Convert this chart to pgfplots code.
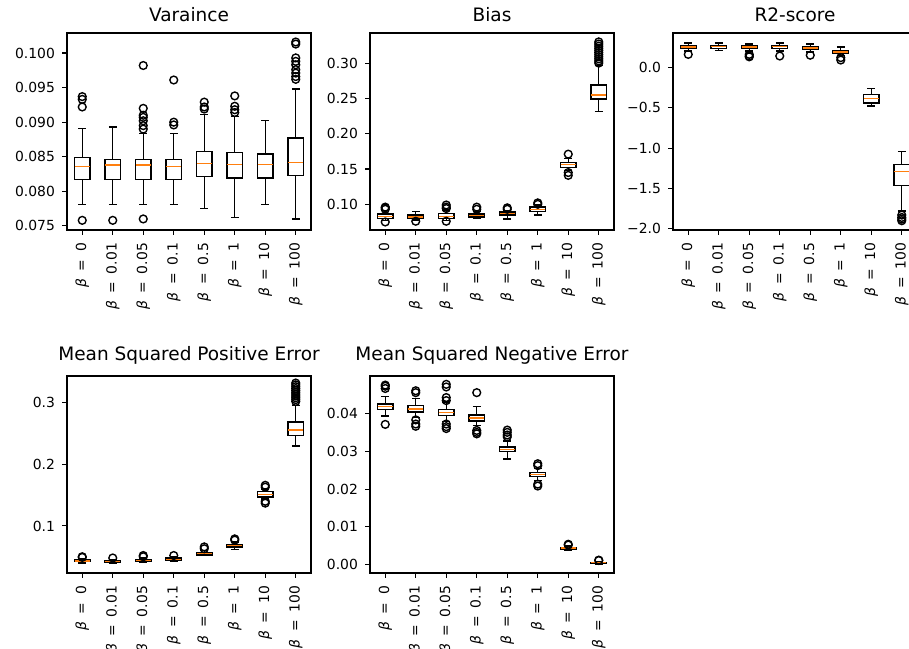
\documentclass[border=0pt]{standalone}
\usepackage{fontspec}
\setmainfont{DejaVu Sans}
\usepackage{pgfplots}
\usepgfplotslibrary{statistics}
\pgfplotsset{compat=1.18}
\definecolor{mplorange}{HTML}{FF7F0E}
\newcommand{\tickfont}{\fontsize{13.9}{16}\selectfont}
\newcommand{\titlefont}{\fontsize{18.5}{22}\selectfont}
\newcommand{\lb}[1]{{\itshape β}\hspace{0.55em}=\hspace{0.55em}#1}
% one prepared box: position, lower whisker, q1, median, q3, upper whisker
\newcommand{\bx}[6]{\addplot[black, line width=1.39pt, boxplot/draw direction=y, boxplot prepared={draw position=#1, lower whisker=#2, lower quartile=#3, median=#4, upper quartile=#5, upper whisker=#6}] coordinates {};}
\newcommand{\fl}[1]{\addplot[black, line width=1.39pt, only marks, mark=o, mark size=3.9pt] coordinates {#1};}
\pgfplotsset{
  bpaxis/.style={
    width=244pt, height=197pt, scale only axis, anchor=north west,
    xmin=0.5, xmax=8.5, xtick={1,...,8},
    xticklabels={\lb{0}, \lb{0.01}, \lb{0.05}, \lb{0.1}, \lb{0.5}, \lb{1}, \lb{10}, \lb{100}},
    xticklabel style={rotate=90, anchor=east, font=\tickfont, inner xsep=8pt, inner ysep=0pt},
    yticklabel style={font=\tickfont, inner sep=0pt, xshift=-7pt},
    xtick pos=bottom, ytick pos=left, tick align=outside,
    major tick length=4.9pt,
    every tick/.style={black, line width=1.1pt},
    axis line style={black, line width=1.1pt},
    title style={font=\titlefont, at={(0.5,1)}, anchor=south, yshift=2pt},
    boxplot/box extend=0.5, boxplot/whisker extend=0.25,
    boxplot/every median/.style={draw=mplorange, line width=1.39pt},
  }
}
\begin{document}
\begin{tikzpicture}
\useasboundingbox (0pt,-648pt) rectangle (909pt,0pt);

% Variance (values in units of 1/1000)
\begin{axis}[bpaxis, at={(67pt,-33pt)}, title={Varaince},
  ymin=74.4, ymax=102.9,
  ytick={75,80,85,90,95,100},
  yticklabels={0.075,0.080,0.085,0.090,0.095,0.100}]
\bx{1}{78.1}{81.7}{83.6}{84.9}{89.1}
\bx{2}{78.1}{81.7}{83.8}{84.6}{89.3}
\bx{3}{78.1}{81.7}{83.8}{84.6}{88.4}
\bx{4}{78.1}{81.7}{83.6}{84.6}{88.4}
\bx{5}{77.5}{82.1}{84.0}{85.8}{91.1}
\bx{6}{76.2}{81.9}{83.9}{85.6}{90.8}
\bx{7}{78.1}{81.9}{83.9}{85.4}{90.2}
\bx{8}{76.0}{82.3}{84.2}{87.7}{94.8}
\fl{(1,93.7) (1,93.3) (1,92.2) (1,75.8)
    (2,75.8)
    (3,98.2) (3,92.0) (3,91.0) (3,90.7) (3,90.2) (3,89.5) (3,89.0) (3,76.0)
    (4,96.1) (4,90.0) (4,89.6)
    (5,92.9) (5,92.2) (5,91.9)
    (6,93.8) (6,92.3) (6,91.8) (6,91.4)
    (8,101.6) (8,101.3) (8,99.3) (8,98.8) (8,98.3) (8,97.6) (8,97.1) (8,96.6) (8,96.2)}
\end{axis}

% Bias
\begin{axis}[bpaxis, at={(370pt,-33pt)}, title={Bias},
  ymin=0.0636, ymax=0.3426,
  ytick={0.10,0.15,0.20,0.25,0.30},
  yticklabels={0.10,0.15,0.20,0.25,0.30}]
\bx{1}{0.077}{0.080}{0.083}{0.086}{0.091}
\bx{2}{0.078}{0.080}{0.082}{0.085}{0.090}
\bx{3}{0.077}{0.080}{0.083}{0.087}{0.092}
\bx{4}{0.080}{0.082}{0.084}{0.086}{0.090}
\bx{5}{0.079}{0.085}{0.087}{0.089}{0.091}
\bx{6}{0.085}{0.090}{0.093}{0.096}{0.099}
\bx{7}{0.148}{0.152}{0.156}{0.159}{0.165}
\bx{8}{0.231}{0.249}{0.255}{0.269}{0.297}
\fl{(1,0.093) (1,0.095) (1,0.096) (1,0.075)
    (2,0.076)
    (3,0.094) (3,0.096) (3,0.099) (3,0.076)
    (4,0.093) (4,0.096)
    (5,0.093) (5,0.095)
    (6,0.100) (6,0.102)
    (7,0.171) (7,0.145) (7,0.141)
    (8,0.300) (8,0.303) (8,0.306) (8,0.309) (8,0.312) (8,0.315) (8,0.318) (8,0.321) (8,0.324) (8,0.327) (8,0.330)}
\end{axis}

% R2-score
\begin{axis}[bpaxis, at={(673pt,-33pt)}, title={R2-score},
  ymin=-2.015, ymax=0.425,
  ytick={-2.0,-1.5,-1.0,-0.5,0.0},
  yticklabels={−2.0,−1.5,−1.0,−0.5,0.0}]
\bx{1}{0.20}{0.23}{0.25}{0.27}{0.30}
\bx{2}{0.21}{0.235}{0.255}{0.27}{0.30}
\bx{3}{0.20}{0.23}{0.25}{0.27}{0.29}
\bx{4}{0.20}{0.235}{0.255}{0.27}{0.30}
\bx{5}{0.19}{0.22}{0.24}{0.26}{0.29}
\bx{6}{0.15}{0.17}{0.19}{0.21}{0.25}
\bx{7}{-0.48}{-0.44}{-0.385}{-0.335}{-0.265}
\bx{8}{-1.78}{-1.465}{-1.29}{-1.205}{-1.04}
\fl{(1,0.16) (3,0.16) (3,0.14) (3,0.13) (4,0.14) (5,0.15) (6,0.12) (6,0.09)
    (8,-1.83) (8,-1.86) (8,-1.88) (8,-1.90)}
\end{axis}

% Mean Squared Positive Error
\begin{axis}[bpaxis, at={(67pt,-376pt)}, title={Mean Squared Positive Error},
  ymin=0.0236, ymax=0.3434,
  ytick={0.1,0.2,0.3},
  yticklabels={0.1,0.2,0.3}]
\bx{1}{0.040}{0.042}{0.043}{0.045}{0.047}
\bx{2}{0.039}{0.041}{0.042}{0.044}{0.046}
\bx{3}{0.041}{0.043}{0.044}{0.046}{0.048}
\bx{4}{0.042}{0.044}{0.046}{0.048}{0.050}
\bx{5}{0.052}{0.053}{0.055}{0.057}{0.060}
\bx{6}{0.062}{0.066}{0.068}{0.070}{0.074}
\bx{7}{0.144}{0.147}{0.151}{0.156}{0.160}
\bx{8}{0.230}{0.247}{0.256}{0.269}{0.296}
\fl{(1,0.049) (1,0.050) (2,0.048) (3,0.050) (3,0.052) (4,0.052)
    (5,0.063) (5,0.066) (6,0.077) (6,0.079)
    (7,0.163) (7,0.166) (7,0.140) (7,0.137)
    (8,0.302) (8,0.305) (8,0.308) (8,0.311) (8,0.314) (8,0.317) (8,0.320) (8,0.323) (8,0.326) (8,0.329) (8,0.332)}
\end{axis}

% Mean Squared Negative Error (values in units of 1/1000)
\begin{axis}[bpaxis, at={(370pt,-376pt)}, title={Mean Squared Negative Error},
  ymin=-2.2, ymax=49.9,
  ytick={0,10,20,30,40},
  yticklabels={0.00,0.01,0.02,0.03,0.04}]
\bx{1}{39.3}{41.0}{41.8}{42.5}{44.5}
\bx{2}{39.0}{40.4}{41.2}{42.1}{44.0}
\bx{3}{37.8}{39.5}{40.2}{41.0}{43.0}
\bx{4}{36.8}{38.0}{38.8}{39.6}{41.8}
\bx{5}{28.0}{30.0}{30.4}{31.1}{32.7}
\bx{6}{22.2}{23.3}{23.8}{24.4}{25.5}
\bx{7}{3.9}{4.1}{4.4}{4.6}{4.9}
\bx{8}{0.0}{0.3}{0.5}{0.6}{0.9}
\fl{(1,46.6) (1,47.2) (1,47.5) (1,37.1)
    (2,45.5) (2,46.0) (2,38.3) (2,37.2) (2,36.6)
    (3,47.7) (3,47.0) (3,44.2) (3,43.4) (3,37.2) (3,36.5) (3,36.0)
    (4,45.5) (4,35.5) (4,35.0) (4,34.6)
    (5,33.8) (5,34.3) (5,35.0) (5,35.6)
    (6,26.7) (6,26.2) (6,21.3) (6,20.8)
    (7,5.2) (7,5.4)
    (8,1.1) (8,1.2)}
\end{axis}
\end{tikzpicture}
\end{document}
